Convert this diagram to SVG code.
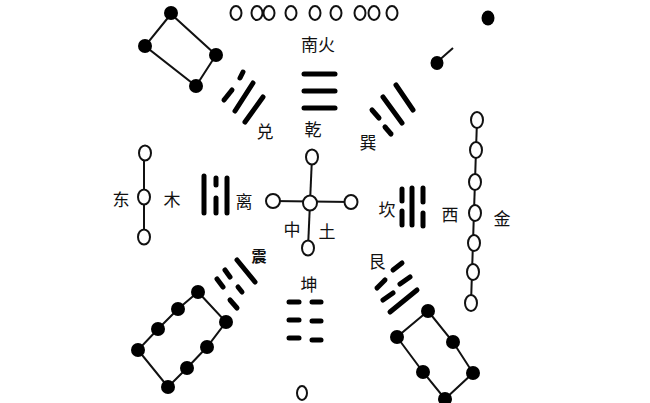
<svg xmlns="http://www.w3.org/2000/svg" width="650" height="403" viewBox="0 0 650 403">
<style>
.bg{fill:#fff}
.w{fill:#fff;stroke:#111;stroke-width:2}
.b{fill:#000}
.ln{stroke:#111;stroke-width:2;fill:none}
.tg{stroke:#000;stroke-width:5;stroke-linecap:round;fill:none}
.t{font-family:"Noto Sans CJK SC","Noto Sans CJK JP",sans-serif;font-size:17px;fill:#111;text-anchor:middle;dominant-baseline:central}
</style>
<rect class="bg" x="0" y="0" width="650" height="403"/>
<g id="connectors">
<polygon class="ln" points="171,14 145,46 196,86 216,55"/>
<line class="ln" x1="436" y1="63" x2="453" y2="48"/>
<line class="ln" x1="144" y1="153" x2="144" y2="237"/>
<line class="ln" x1="312" y1="157" x2="308" y2="248"/>
<line class="ln" x1="273" y1="201" x2="351" y2="202"/>
<line class="ln" x1="477" y1="120" x2="471" y2="303"/>
<polygon class="ln" points="198,292 178,309 158,329 138,350 168,387 187,368 207,347 226,322"/>
<polygon class="ln" points="428,311 397,337 423,372 445,399 473,373 453,342"/>
</g>
<g id="south-nine">
<ellipse class="w" cx="236" cy="13" rx="5.5" ry="7"/>
<ellipse class="w" cx="257" cy="13" rx="5.5" ry="7"/>
<ellipse class="w" cx="269" cy="13" rx="5.5" ry="7"/>
<ellipse class="w" cx="291" cy="13" rx="5.5" ry="7"/>
<ellipse class="w" cx="315" cy="13" rx="5.5" ry="7"/>
<ellipse class="w" cx="336" cy="13" rx="5.5" ry="7"/>
<ellipse class="w" cx="360" cy="13" rx="5.5" ry="7"/>
<ellipse class="w" cx="374" cy="13" rx="5.5" ry="7"/>
<ellipse class="w" cx="392" cy="13" rx="5.5" ry="7"/>
</g>
<g id="label-south"><text class="t" x="318" y="43">南火</text></g>
<g id="four-black">
<circle class="b" cx="171" cy="13" r="7"/>
<circle class="b" cx="145" cy="46" r="7"/>
<circle class="b" cx="216" cy="55" r="7"/>
<circle class="b" cx="196" cy="86" r="7"/>
</g>
<g id="two-black">
<ellipse class="b" cx="488" cy="18" rx="6.5" ry="7.5"/>
<ellipse class="b" cx="437" cy="63" rx="6.5" ry="7"/>
</g>
<g id="dui">
<line class="tg" x1="243" y1="72" x2="240" y2="78"/>
<line class="tg" x1="232" y1="90" x2="224" y2="100"/>
<line class="tg" x1="253" y1="83" x2="235" y2="111"/>
<line class="tg" x1="263" y1="97" x2="245" y2="122"/>
<text class="t" x="265" y="130">兑</text>
</g>
<g id="qian">
<line class="tg" x1="304" y1="74" x2="335" y2="74"/>
<line class="tg" x1="304" y1="91" x2="335" y2="91"/>
<line class="tg" x1="304" y1="108" x2="335" y2="108"/>
<text class="t" x="313" y="128">乾</text>
</g>
<g id="xun">
<line class="tg" x1="396" y1="85" x2="413" y2="110"/>
<line class="tg" x1="383" y1="97" x2="402" y2="123"/>
<line class="tg" x1="372" y1="110" x2="379" y2="118"/>
<line class="tg" x1="385" y1="127" x2="391" y2="134"/>
<text class="t" x="368" y="141">巽</text>
</g>
<g id="east-three">
<ellipse class="w" cx="145" cy="153" rx="6" ry="7.5"/>
<ellipse class="w" cx="144" cy="197" rx="6" ry="7.5"/>
<ellipse class="w" cx="144" cy="237" rx="6" ry="7.5"/>
<text class="t" x="121" y="198">东</text>
<text class="t" x="172" y="198">木</text>
</g>
<g id="li">
<line class="tg" x1="204" y1="176" x2="204" y2="213"/>
<line class="tg" x1="216" y1="178" x2="216" y2="185"/>
<line class="tg" x1="216" y1="198" x2="216" y2="213"/>
<line class="tg" x1="227" y1="178" x2="227" y2="213"/>
<text class="t" x="244" y="200">离</text>
</g>
<g id="center-five">
<ellipse class="w" cx="312" cy="157" rx="6" ry="7.5"/>
<ellipse class="w" cx="273" cy="201" rx="7" ry="7"/>
<ellipse class="w" cx="310" cy="203" rx="7" ry="7.5"/>
<ellipse class="w" cx="351" cy="202" rx="6.5" ry="7"/>
<ellipse class="w" cx="308" cy="248" rx="6" ry="7.5"/>
<text class="t" x="292" y="228">中</text>
<text class="t" x="327" y="230">土</text>
</g>
<g id="kan">
<line class="tg" x1="402" y1="189" x2="402" y2="201"/>
<line class="tg" x1="402" y1="211" x2="402" y2="225"/>
<line class="tg" x1="412" y1="188" x2="412" y2="225"/>
<line class="tg" x1="423" y1="188" x2="423" y2="202"/>
<line class="tg" x1="423" y1="213" x2="423" y2="226"/>
<text class="t" x="387" y="208">坎</text>
</g>
<g id="west-seven">
<ellipse class="w" cx="477" cy="120" rx="6" ry="8"/>
<ellipse class="w" cx="476" cy="150" rx="6" ry="8"/>
<ellipse class="w" cx="475" cy="182" rx="6" ry="8"/>
<ellipse class="w" cx="475" cy="213" rx="6" ry="8"/>
<ellipse class="w" cx="474" cy="243" rx="6" ry="8"/>
<ellipse class="w" cx="473" cy="272" rx="6" ry="8"/>
<ellipse class="w" cx="471" cy="303" rx="6" ry="8"/>
<text class="t" x="450" y="213">西</text>
<text class="t" x="502" y="217">金</text>
</g>
<g id="zhen">
<line class="tg" x1="237" y1="260" x2="255" y2="282"/>
<line class="tg" x1="225" y1="270" x2="230" y2="277"/>
<line class="tg" x1="238" y1="287" x2="242" y2="292"/>
<line class="tg" x1="217" y1="279" x2="223" y2="287"/>
<line class="tg" x1="230" y1="300" x2="237" y2="308"/>
<text class="t" x="259" y="255" style="font-size:15px;font-weight:bold">震</text>
</g>
<g id="eight-black">
<circle class="b" cx="198" cy="292" r="7"/>
<circle class="b" cx="178" cy="309" r="7"/>
<circle class="b" cx="158" cy="329" r="7"/>
<circle class="b" cx="138" cy="350" r="7"/>
<circle class="b" cx="168" cy="387" r="7"/>
<circle class="b" cx="187" cy="368" r="7"/>
<circle class="b" cx="207" cy="347" r="7"/>
<circle class="b" cx="226" cy="322" r="7"/>
</g>
<g id="kun">
<text class="t" x="309" y="283">坤</text>
<line class="tg" x1="289" y1="302" x2="299" y2="302"/>
<line class="tg" x1="312" y1="302" x2="321" y2="302"/>
<line class="tg" x1="289" y1="320" x2="299" y2="320"/>
<line class="tg" x1="312" y1="321" x2="321" y2="321"/>
<line class="tg" x1="289" y1="338" x2="299" y2="338"/>
<line class="tg" x1="312" y1="340" x2="321" y2="340"/>
</g>
<g id="north-one"><ellipse class="w" cx="302" cy="393" rx="5" ry="7"/></g>
<g id="gen">
<text class="t" x="377" y="260">艮</text>
<line class="tg" x1="402" y1="263" x2="393" y2="270"/>
<line class="tg" x1="385" y1="280" x2="377" y2="288"/>
<line class="tg" x1="410" y1="277" x2="400" y2="284"/>
<line class="tg" x1="393" y1="293" x2="383" y2="300"/>
<line class="tg" x1="417" y1="290" x2="390" y2="312"/>
</g>
<g id="six-black">
<circle class="b" cx="428" cy="311" r="7"/>
<circle class="b" cx="397" cy="337" r="7"/>
<circle class="b" cx="453" cy="342" r="7"/>
<circle class="b" cx="423" cy="372" r="7"/>
<circle class="b" cx="473" cy="373" r="7"/>
<circle class="b" cx="445" cy="399" r="7"/>
</g>
</svg>
